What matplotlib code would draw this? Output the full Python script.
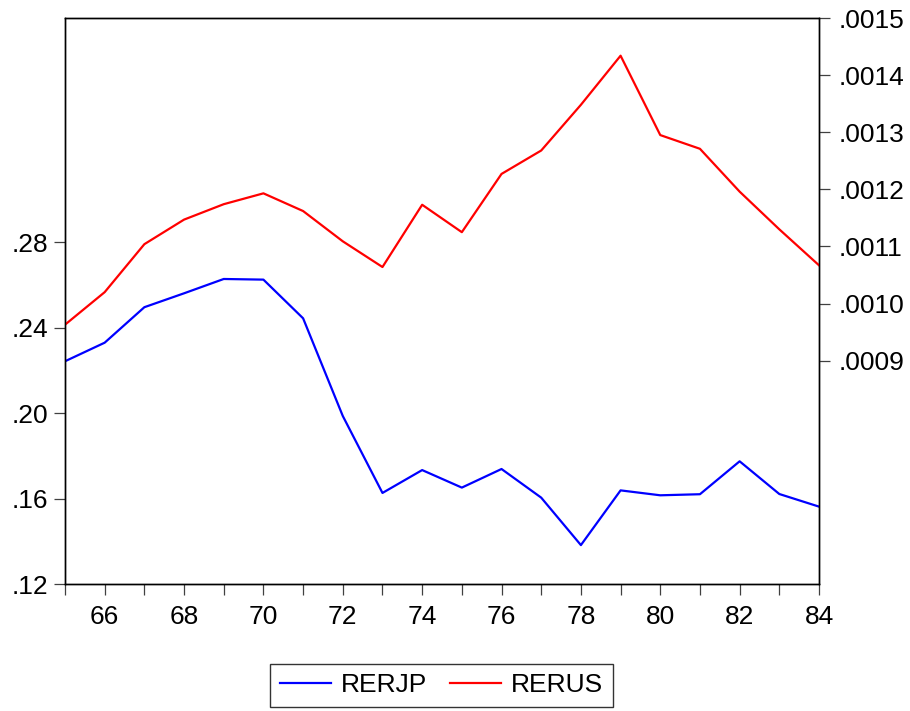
#!/usr/bin/env python3
"""
Real exchange rates RERJP (left axis) and RERUS (right axis), 1965-1984.
EViews-style dual-axis line chart.
"""

import matplotlib
matplotlib.use("Agg")
import matplotlib.pyplot as plt
from matplotlib.ticker import FixedLocator

plt.rcParams['font.family'] = ['Liberation Sans', 'DejaVu Sans']

# Data
years = list(range(1965, 1985))
rerjp = [0.2242, 0.2329, 0.2495, 0.2560, 0.2627, 0.2624, 0.2443, 0.1986,
         0.1626, 0.1733, 0.1651, 0.1738, 0.1604, 0.1382, 0.1638, 0.1615,
         0.1620, 0.1774, 0.1621, 0.1562]
rerus = [0.000963, 0.001020, 0.001104, 0.001147, 0.001174, 0.001193,
         0.001162, 0.001109, 0.001064, 0.001173, 0.001125, 0.001227,
         0.001268, 0.001348, 0.001434, 0.001295, 0.001271, 0.001196,
         0.001130, 0.001067]

left_ticks = [0.12, 0.16, 0.20, 0.24, 0.28]
left_labels = ['.12', '.16', '.20', '.24', '.28']
right_ticks = [0.0009, 0.0010, 0.0011, 0.0012, 0.0013, 0.0014, 0.0015]
right_labels = ['.0009', '.0010', '.0011', '.0012', '.0013', '.0014', '.0015']
x_major = [1966, 1968, 1970, 1972, 1974, 1976, 1978, 1980, 1982, 1984]
x_labels = ['66', '68', '70', '72', '74', '76', '78', '80', '82', '84']

FS = 19

fig = plt.figure(figsize=(9.1, 7.11), dpi=100)
ax = fig.add_axes([65 / 910, 127 / 711, 754 / 910, 566 / 711])
ax2 = ax.twinx()

l1, = ax.plot(years, rerjp, color='#0000ff', lw=1.6, label='RERJP')
l2, = ax2.plot(years, rerus, color='#ff0000', lw=1.6, label='RERUS')

ax.set_xlim(1965, 1984)
ax.set_ylim(0.12, 0.3848)
ax2.set_ylim(0.000509, 0.0015)

ax.set_yticks(left_ticks)
ax.set_yticklabels(left_labels)
ax2.set_yticks(right_ticks)
ax2.set_yticklabels(right_labels)

ax.set_xticks(x_major)
ax.set_xticklabels(x_labels)
ax.xaxis.set_minor_locator(FixedLocator(years))

for a in (ax, ax2):
    for s in a.spines.values():
        s.set_color('black')
        s.set_linewidth(1.0)

tick_col = '#404040'
ax.tick_params(axis='y', direction='out', length=8, width=0.9,
               labelsize=FS, pad=4, color=tick_col, labelcolor='black')
ax2.tick_params(axis='y', direction='out', length=8, width=0.9,
                labelsize=FS, pad=6, color=tick_col, labelcolor='black')
ax.tick_params(axis='x', which='both', direction='out', length=8,
               width=0.9, labelsize=FS, pad=7, color=tick_col,
               labelcolor='black')

leg = fig.legend(handles=[l1, l2], loc='center',
                 bbox_to_anchor=(441.5 / 910, 1 - 685.5 / 711),
                 ncol=2, fontsize=FS, frameon=True, fancybox=False,
                 handlelength=1.95, handletextpad=0.38,
                 columnspacing=0.85, borderpad=0.35, borderaxespad=0)
leg.get_frame().set_edgecolor('black')
leg.get_frame().set_linewidth(1.0)
for line in leg.get_lines():
    line.set_linewidth(1.6)

plt.savefig('out.png', dpi=100)
plt.close()
